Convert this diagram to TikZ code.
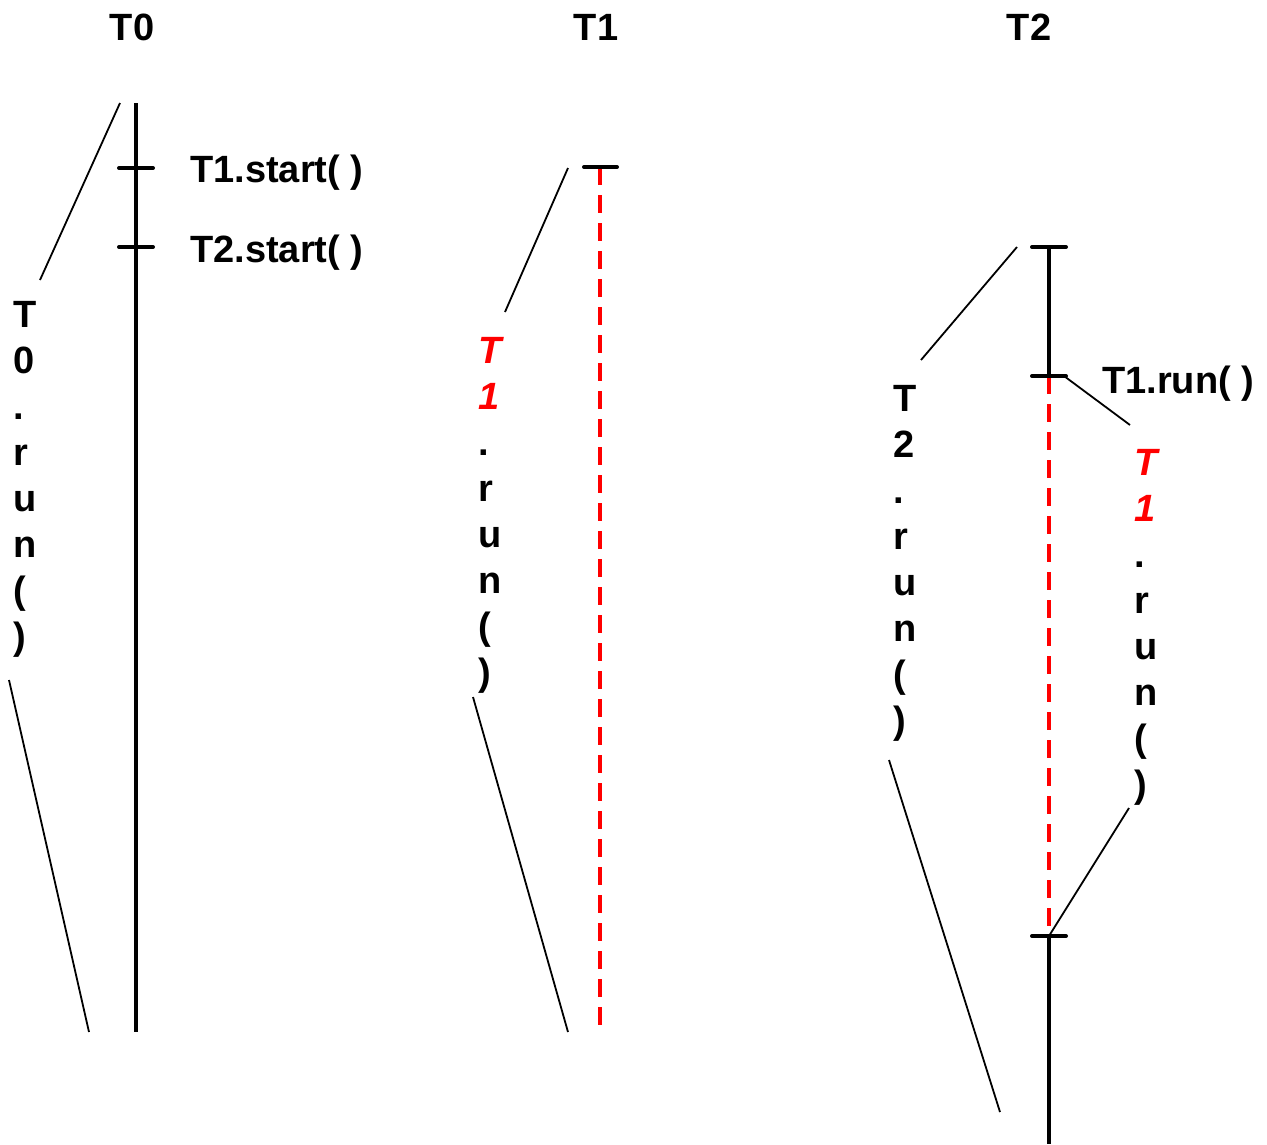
\documentclass[tikz,border=0pt]{standalone}
\usepackage{fontspec}
\setmainfont{Liberation Sans}
\begin{document}
\begin{tikzpicture}[x=1pt,y=-1pt,
  lbl/.style={font=\fontsize{38}{46}\selectfont\bfseries, inner sep=0pt},
  vlbl/.style={lbl, align=left, anchor=north west},
  life/.style={line width=4pt},
  tickmark/.style={line width=4pt, line cap=round},
  brace/.style={line width=1.8pt},
  act/.style={red, line width=4pt, dash pattern=on 18pt off 10pt},
]
\useasboundingbox (0,0) rectangle (1267,1144);

% thread headers
\node[lbl, anchor=base] (h0) at (132,40) {T0};
\node[lbl, anchor=base] (h1) at (596,40) {T1};
\node[lbl, anchor=base] (h2) at (1029,40) {T2};

% ---------- thread T0 ----------
\coordinate (t0top) at (136,103);
\coordinate (t0bot) at (136,1032);
\coordinate (s1) at (136,168);
\coordinate (s2) at (136,247);
\draw[life] (t0top) -- (t0bot);
\draw[tickmark] ([xshift=-17pt]s1) -- ([xshift=17pt]s1);
\draw[tickmark] ([xshift=-17pt]s2) -- ([xshift=17pt]s2);
\node[lbl, anchor=base west] (st1) at (190,182) {T1.start( )};
\node[lbl, anchor=base west] (st2) at (190,262) {T2.start( )};

\node[vlbl] (r0) at (13,301) {T\\0\\.\\r\\u\\n\\(\\)};
\coordinate (r0a) at (120,103);
\coordinate (r0b) at (40,280);
\coordinate (r0c) at (9,680);
\coordinate (r0d) at (89,1032);
\draw[brace] (r0a) -- (r0b);
\draw[brace] (r0c) -- (r0d);

% ---------- thread T1 ----------
\coordinate (t1top) at (600,167);
\coordinate (t1bot) at (600,1025);
\draw[act] (t1top) -- (t1bot);
\draw[tickmark] ([xshift=-16pt]t1top) -- ([xshift=17pt]t1top);

\node[vlbl] (r1) at (478,337) {\textcolor{red}{\itshape T}\\\textcolor{red}{\itshape 1}\\.\\r\\u\\n\\(\\)};
\coordinate (r1a) at (568,168);
\coordinate (r1b) at (505,312);
\coordinate (r1c) at (473,697);
\coordinate (r1d) at (568,1032);
\draw[brace] (r1a) -- (r1b);
\draw[brace] (r1c) -- (r1d);

% ---------- thread T2 ----------
\coordinate (t2top) at (1049,247);
\coordinate (t2in) at (1049,376);
\coordinate (t2out) at (1049,936);
\coordinate (t2bot) at (1049,1144);
\draw[life] (t2top) -- (t2in);
\draw[act] (t2in) -- (t2out);
\draw[life] (t2out) -- (t2bot);
\draw[tickmark] ([xshift=-17pt]t2top) -- ([xshift=17pt]t2top);
\draw[tickmark] ([xshift=-17pt]t2in) -- ([xshift=17pt]t2in);
\draw[tickmark] ([xshift=-17pt]t2out) -- ([xshift=17pt]t2out);
\node[lbl, anchor=base west] (call) at (1102,393) {T1.run( )};

\node[vlbl] (r2) at (893,385) {T\\2\\.\\r\\u\\n\\(\\)};
\coordinate (r2a) at (1017,247);
\coordinate (r2b) at (921,360);
\coordinate (r2c) at (889,760);
\coordinate (r2d) at (1000,1112);
\draw[brace] (r2a) -- (r2b);
\draw[brace] (r2c) -- (r2d);

\node[vlbl] (r3) at (1134,449) {\textcolor{red}{\itshape T}\\\textcolor{red}{\itshape 1}\\.\\r\\u\\n\\(\\)};
\coordinate (r3a) at (1064,376);
\coordinate (r3b) at (1130,425);
\coordinate (r3c) at (1129,808);
\draw[brace] (r3a) -- (r3b);
\draw[brace] (r3c) -- (t2out);
\end{tikzpicture}
\end{document}
